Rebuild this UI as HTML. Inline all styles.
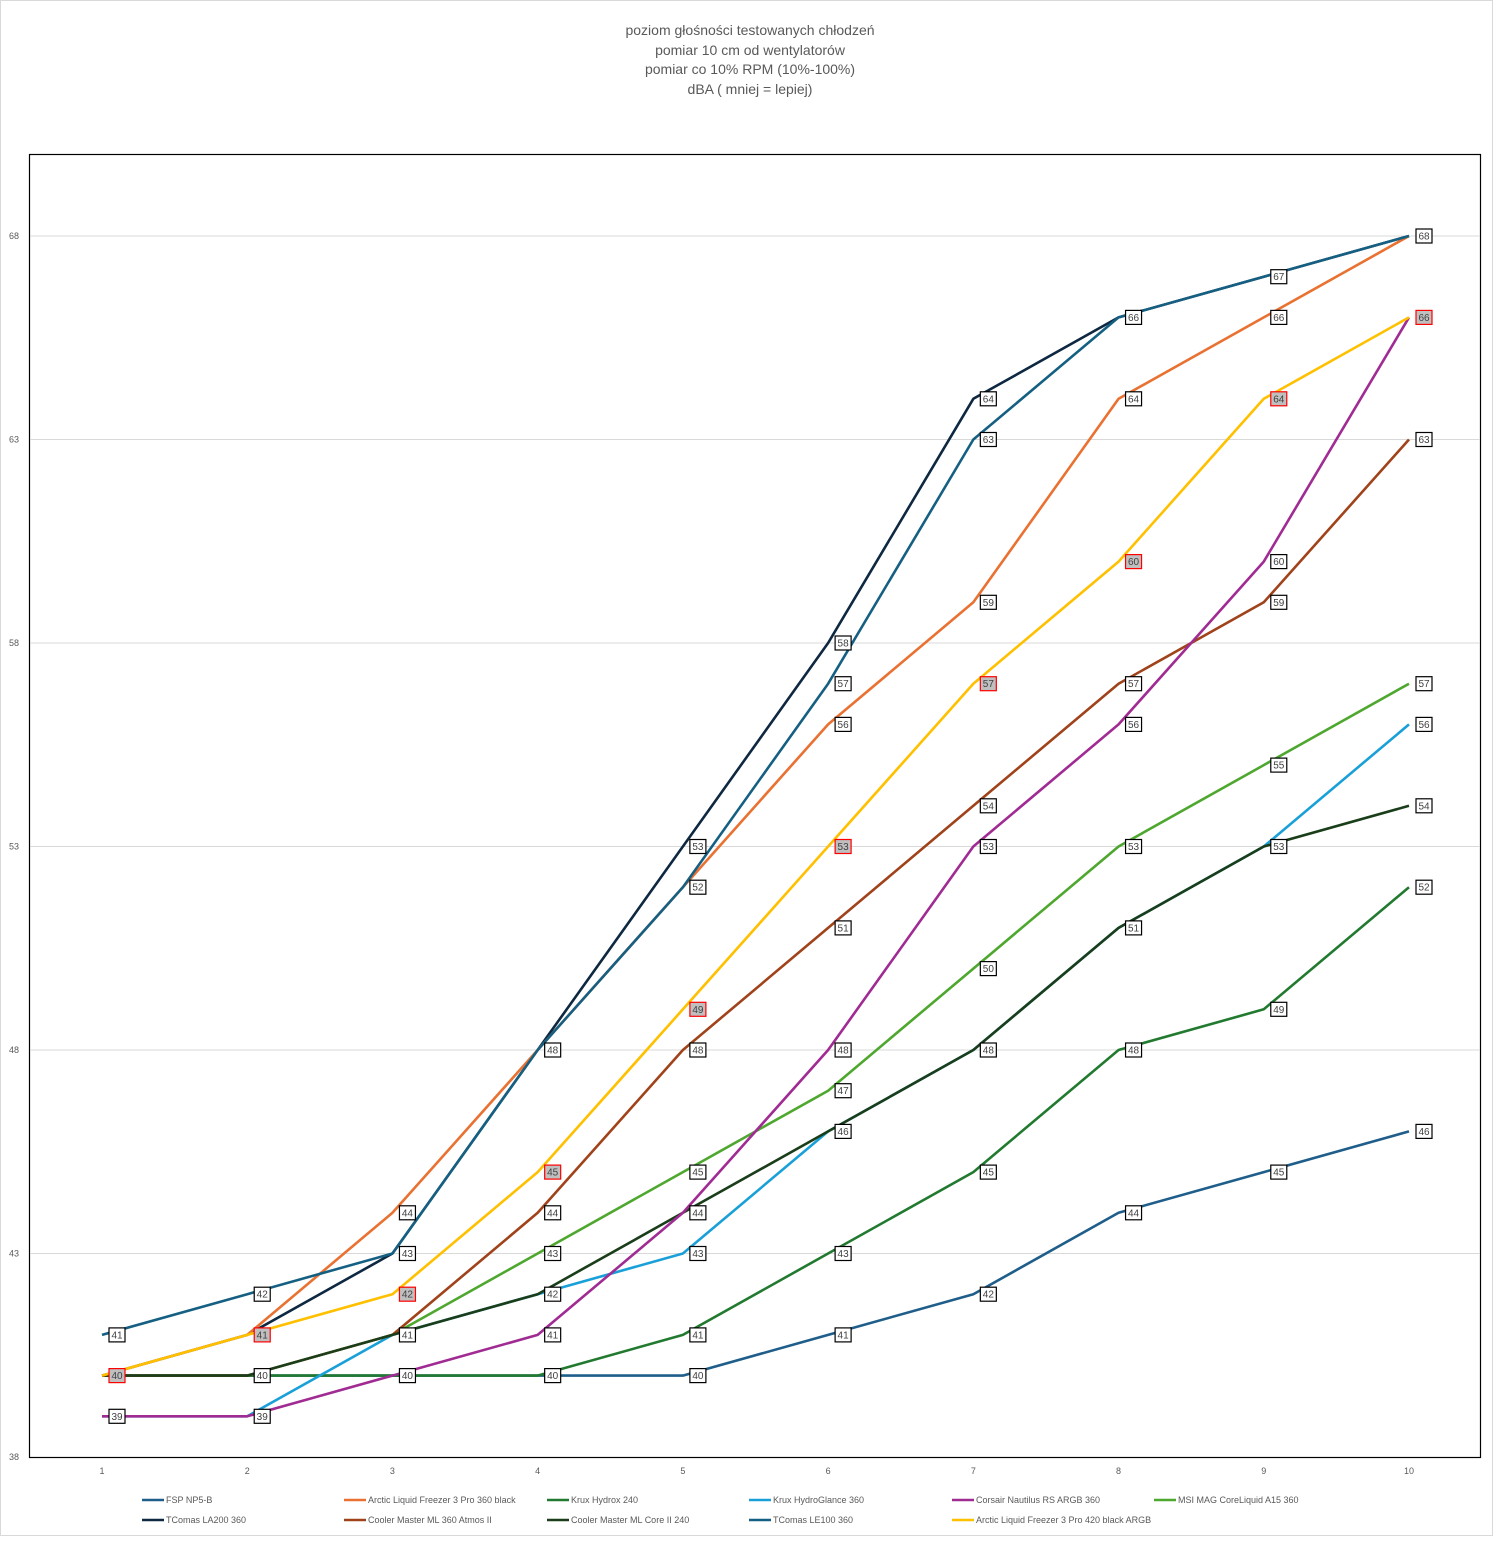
<!DOCTYPE html>
<html><head><meta charset="utf-8"><style>
body{margin:0;background:#fff;font-family:"Liberation Sans",sans-serif}
</style></head><body>
<svg id="chart" width="1493" height="1536" xmlns="http://www.w3.org/2000/svg" font-family="Liberation Sans, sans-serif">
<rect x="0.5" y="0.5" width="1492" height="1535" fill="#fff" stroke="#d9d9d9"/>
<g fill="#595959" font-size="14" text-anchor="middle">
<text x="750" y="35">poziom głośności testowanych chłodzeń</text>
<text x="750" y="55">pomiar 10 cm od wentylatorów</text>
<text x="750" y="74">pomiar co 10% RPM (10%-100%)</text>
<text x="750" y="94">dBA ( mniej = lepiej)</text>
</g>
<rect x="29.5" y="154.5" width="1451" height="1303" fill="none" stroke="#000" stroke-width="1.2"/>
<g id="grid"></g><g id="series"></g><g id="labels"></g><g id="legend"></g>
</svg>
<script>
const categories=[1,2,3,4,5,6,7,8,9,10];
const yTicks=[38,43,48,53,58,63,68];
const names=["FSP NP5-B","Arctic Liquid Freezer 3 Pro 360 black","Krux Hydrox 240","Krux HydroGlance 360","Corsair  Nautilus RS ARGB 360","MSI MAG CoreLiquid A15 360","TComas LA200 360","Cooler Master ML 360 Atmos II","Cooler Master ML Core II 240","TComas LE100 360","Arctic Liquid Freezer 3 Pro 420 black ARGB"];
const colors=["#1f5e8a","#e97132","#217a2f","#1aa0d8","#a02b93","#4ea72e","#0e2841","#a0421a","#1a3d1a","#156082","#ffc000"];
const sFSP=[40,40,40,40,40,41,42,44,45,46];
const sArctic360=[40,41,44,48,52,56,59,64,66,68];
const sHydrox=[40,40,40,40,41,43,45,48,49,52];
const sHydroGlance=[39,39,41,42,43,46,48,51,53,56];
const sCorsair=[39,39,40,41,44,48,53,56,60,66];
const sMSI=[40,40,41,43,45,47,50,53,55,57];
const sLA200=[40,41,43,48,53,58,64,66,67,68];
const sAtmos=[40,40,41,44,48,51,54,57,59,63];
const sCore=[40,40,41,42,44,46,48,51,53,54];
const sLE100=[41,42,43,48,52,57,63,66,67,68];
const sArctic420=[40,41,42,45,49,53,57,60,64,66];
const series=[sFSP,sArctic360,sHydrox,sHydroGlance,sCorsair,sMSI,sLA200,sAtmos,sCore,sLE100,sArctic420];
const NS="http://www.w3.org/2000/svg";
function X(c){return 102+(c-1)*(1409-102)/9;}
function Y(v){return 1457-(v-38)*(1457-236)/30;}
function mk(tag,attrs,parent,txt){const e=document.createElementNS(NS,tag);for(const k in attrs)e.setAttribute(k,attrs[k]);if(txt!==undefined)e.textContent=txt;parent.appendChild(e);return e;}
const grid=document.getElementById('grid');
yTicks.forEach(t=>{
 if(t>38){const l=mk('line',{x1:30,x2:1480,y1:Y(t),y2:Y(t),stroke:'#d9d9d9','stroke-width':1},grid);
 
 }
 const tx=mk('text',{x:14,y:Y(t)+3,'font-size':9,fill:'#595959','text-anchor':'middle'},grid,t);
 
 
});
categories.forEach(c=>{
 const tx=mk('text',{x:X(c),y:1474,'font-size':9,fill:'#595959','text-anchor':'middle'},grid,c);
 
 
});
const sg=document.getElementById('series');
const order=[0,2,3,5,7,8,4,6,1,9,10];
order.forEach(i=>{
 const pts=series[i].map((v,j)=>X(categories[j])+','+Y(v)).join(' ');
 const p=mk('polyline',{points:pts,fill:'none',stroke:colors[i],'stroke-width':2.6,'stroke-linejoin':'round'},sg);
 
 
});
const lg=document.getElementById('labels');
categories.forEach((c,j)=>{
 const seen={};
 for(let k=order.length-1;k>=0;k--){const i=order[k];const v=series[i][j];if(seen[v]===undefined)seen[v]=i;}
 for(const v in seen){
  const i=seen[v];const yl=i===10;
  const cx=X(c)+15,cy=Y(+v);
  const r=mk('rect',{x:cx-8,y:cy-7,width:16,height:14,fill:yl?'#bfbfbf':'#fff',stroke:yl?'#ff0000':'#000','stroke-width':1.2},lg);
  
  
  const t=mk('text',{x:cx,y:cy+3.5,'font-size':10,fill:'#404040','text-anchor':'middle'},lg,v);
  
  
 }
});
const leg=document.getElementById('legend');
const lx=[142,344,547,749,952,1154];
names.forEach((n,k)=>{
 const x=lx[k%6],y=k<6?1500:1520;
 const g=mk('g',{},leg);
 
 
 mk('line',{x1:x,x2:x+22,y1:y,y2:y,stroke:colors[k],'stroke-width':2.6},g);
 mk('text',{x:x+24,y:y+3,'font-size':9,fill:'#595959'},g,n);
});
</script>
</body></html>
